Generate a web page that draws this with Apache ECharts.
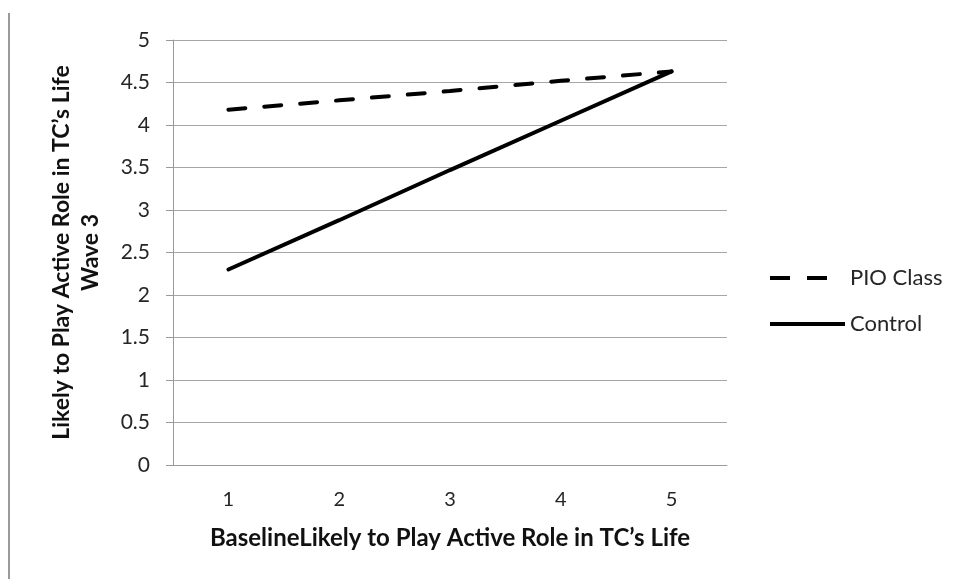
<!DOCTYPE html>
<html>
<head>
<meta charset="utf-8">
<script src="https://cdn.jsdelivr.net/npm/echarts@6/dist/echarts.min.js"></script>
<style>html,body{margin:0;padding:0;background:#fff}#c{width:956px;height:579px}</style>
</head>
<body>
<div id="c"></div>
<script>
var categories = ['1', '2', '3', '4', '5'];
var pioClass = [4.18, 4.29, 4.40, 4.52, 4.63];
var control = [2.30, 2.88, 3.47, 4.05, 4.63];
var seriesNames = ['PIO Class', 'Control'];
var xTitle = 'BaselineLikely to Play Active Role in TC\u2019s Life';
var yTitle = 'Likely to Play Active Role in TC\u2019s Life\nWave 3';

var font = 'Lato, "Open Sans", sans-serif';
var noSymbol = {color: 'rgba(0,0,0,0)', borderWidth: 0, opacity: 0};
var chart = echarts.init(document.getElementById('c'), null, {renderer: 'canvas'});
chart.setOption({
  animation: false,
  backgroundColor: '#fff',
  grid: {left: 173, right: 229, top: 40, bottom: 114},
  legend: {
    orient: 'vertical',
    left: 763, top: 262,
    padding: 5,
    itemWidth: 75, itemHeight: 24, itemGap: 24,
    textStyle: {fontFamily: font, fontSize: 22, color: '#262626'},
    data: [
      {name: seriesNames[0], itemStyle: noSymbol, lineStyle: {color: '#000', width: 4, type: [20, 17, 20, 100], cap: 'butt'}},
      {name: seriesNames[1], itemStyle: noSymbol, lineStyle: {color: '#000', width: 4, type: 'solid', cap: 'butt'}}
    ]
  },
  xAxis: {
    type: 'category',
    data: categories,
    boundaryGap: true,
    axisLine: {lineStyle: {color: '#9a9a9a', width: 1}},
    axisTick: {show: false},
    axisLabel: {fontFamily: font, fontSize: 20, color: '#262626', margin: 25},
    name: xTitle,
    nameLocation: 'middle',
    nameGap: 61,
    nameTextStyle: {fontFamily: font, fontSize: 24, fontWeight: 'bold', color: '#111'}
  },
  yAxis: {
    type: 'value',
    min: 0, max: 5, interval: 0.5,
    axisLine: {show: true, lineStyle: {color: '#9a9a9a', width: 1}},
    axisTick: {show: true, length: 7, lineStyle: {color: '#9a9a9a'}},
    axisLabel: {fontFamily: font, fontSize: 21, color: '#262626', margin: 23},
    splitLine: {lineStyle: {color: '#a6a6a6', width: 1}},
    name: yTitle,
    nameLocation: 'middle',
    nameRotate: 90,
    nameGap: 68,
    nameTextStyle: {fontFamily: font, fontSize: 23, fontWeight: 'bold', color: '#111', lineHeight: 29, align: 'center'}
  },
  series: [
    {
      name: seriesNames[0], type: 'line', data: pioClass, symbol: 'none',
      lineStyle: {color: '#000', width: 4, type: [17, 19], cap: 'round'},
      itemStyle: {color: '#000'}
    },
    {
      name: seriesNames[1], type: 'line', data: control, symbol: 'none',
      lineStyle: {color: '#000', width: 4, type: 'solid', cap: 'round'},
      itemStyle: {color: '#000'}
    }
  ],
  graphic: [{
    type: 'line', shape: {x1: 9, y1: 13, x2: 9, y2: 579},
    style: {stroke: '#9a9a9a', lineWidth: 2}
  }]
});
</script>
</body>
</html>
